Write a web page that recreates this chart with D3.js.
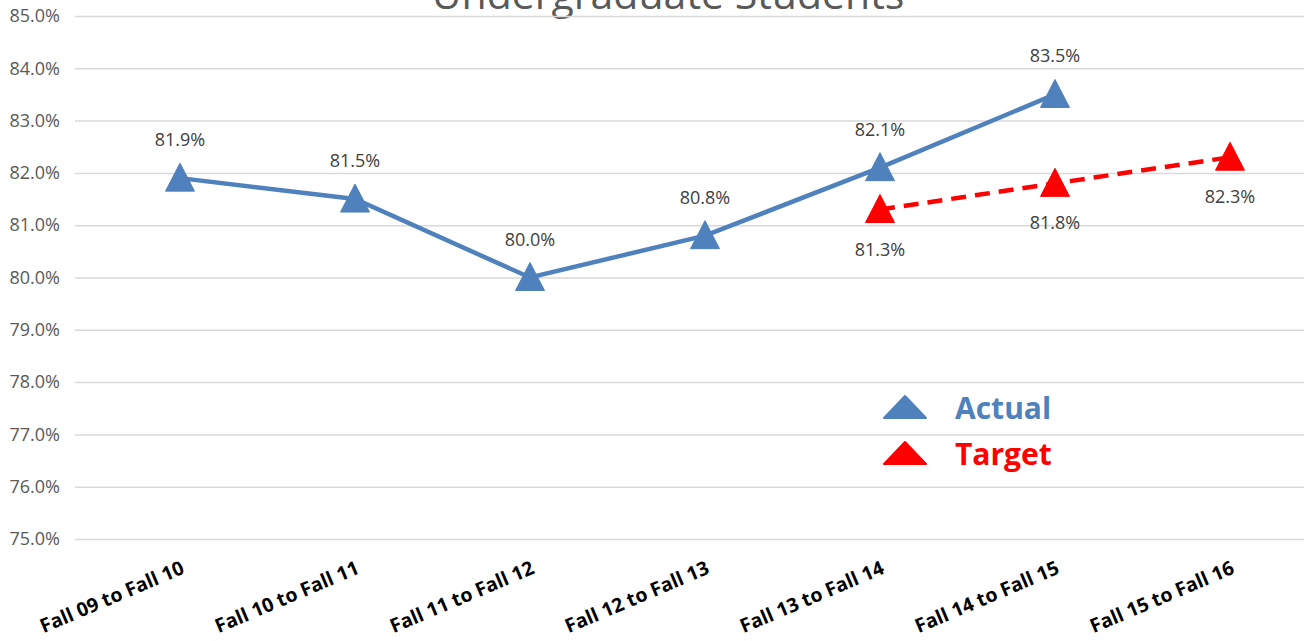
<!DOCTYPE html>
<html>
<head>
<meta charset="utf-8">
<script src="https://cdn.jsdelivr.net/npm/d3@7"></script>
<style>
  body { margin: 0; background: #fff; }
  svg { display: block; }
</style>
</head>
<body>
<div id="chart"></div>
<script>
// chart values
const categories = ["Fall 09 to Fall 10", "Fall 10 to Fall 11", "Fall 11 to Fall 12", "Fall 12 to Fall 13",
                    "Fall 13 to Fall 14", "Fall 14 to Fall 15", "Fall 15 to Fall 16"];
const actual = [81.9, 81.5, 80.0, 80.8, 82.1, 83.5];
const target = [null, null, null, null, 81.3, 81.8, 82.3];
const yTicks = [75, 76, 77, 78, 79, 80, 81, 82, 83, 84, 85];
const title = "Undergraduate Students";

const width = 1304, height = 641;
const svg = d3.select("#chart").append("svg").attr("width", width).attr("height", height);

// Scales
const x = d3.scalePoint().domain(categories).range([180, 1230]);
const y = d3.scaleLinear().domain([75, 85]).range([539, 16]);
const blue = "#4F81BD", red = "#FF0000";
const font = "'Open Sans', 'Noto Sans', sans-serif";

// Title (top part runs off the page, as in the original)
svg.append("text").attr("x", 668).attr("y", 9).attr("text-anchor", "middle")
   .attr("font-family", font).attr("font-size", 41).attr("fill", "#595959").text(title);

// Gridlines + y labels
const yAxis = d3.axisLeft(y).tickValues(yTicks).tickSize(-(width - 75))
   .tickFormat(d => d.toFixed(1) + "%");
const yG = svg.append("g").attr("transform", "translate(75,0)").call(yAxis);
yG.select(".domain").remove();
yG.selectAll(".tick line").attr("stroke", "#d9d9d9").attr("stroke-width", 1.5);
yG.selectAll(".tick text").attr("x", -15).attr("font-family", font).attr("font-size", 18).attr("fill", "#595959");

// X labels
const xAxis = d3.axisBottom(x).tickSize(0);
const xG = svg.append("g").attr("transform", "translate(0,545)").call(xAxis);
xG.select(".domain").remove();
xG.selectAll(".tick text")
   .attr("font-family", font).attr("font-size", 19.5).attr("font-weight", "bold").attr("fill", "#000")
   .attr("text-anchor", "end").attr("dy", 0).attr("y", 0)
   .attr("transform", "translate(5,28) rotate(-23)");

// triangle marker: apex up, base a bit below the point
const triangle = (hw, top, bottom) => `M0,${-top}L${hw},${bottom}L${-hw},${bottom}Z`;

function drawSeries(values, color, dashed, labelBelow) {
  const pts = values.map((v, i) => ({ c: categories[i], v })).filter(d => d.v != null);
  const line = d3.line().x(d => x(d.c)).y(d => y(d.v));
  svg.append("path").datum(pts).attr("d", line).attr("fill", "none")
     .attr("stroke", color).attr("stroke-width", 4.5)
     .attr("stroke-dasharray", dashed ? "15,9" : null);
  svg.append("g").selectAll("path").data(pts).join("path")
     .attr("d", triangle(14.5, 15, 13)).attr("fill", color).attr("stroke", color)
     .attr("stroke-width", 1).attr("stroke-linejoin", "round")
     .attr("transform", d => `translate(${x(d.c)},${y(d.v)})`);
  svg.append("g").selectAll("text").data(pts).join("text")
     .attr("x", d => x(d.c)).attr("y", d => y(d.v) + (labelBelow ? 46 : -32))
     .attr("text-anchor", "middle").attr("font-family", font).attr("font-size", 18).attr("fill", "#404040")
     .text(d => d.v.toFixed(1) + "%");
}

drawSeries(actual, blue, false, false);
drawSeries(target, red, true, true);

// Legend
const legend = [{ name: "Actual", color: blue, y: 408 }, { name: "Target", color: red, y: 454 }];
const lg = svg.append("g").selectAll("g").data(legend).join("g")
   .attr("transform", d => `translate(905,${d.y})`);
lg.append("path").attr("d", triangle(21, 12, 10)).attr("fill", d => d.color)
   .attr("stroke", d => d.color).attr("stroke-width", 2).attr("stroke-linejoin", "round");
lg.append("text").attr("x", 50).attr("y", 11).attr("font-family", font).attr("font-size", 30)
   .attr("font-weight", "bold").attr("fill", d => d.color).text(d => d.name);
</script>
</body>
</html>
